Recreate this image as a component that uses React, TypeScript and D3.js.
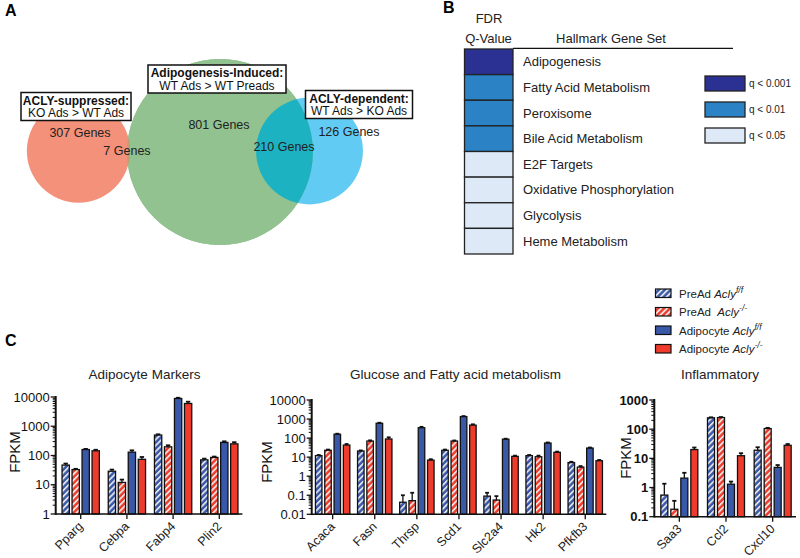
import * as d3 from 'd3'

const FONT = "Arial, 'Liberation Sans', Helvetica, sans-serif"
const BLUE = '#3a58a8'
const RED = '#ef3b2c'

// ---- Panel A: Venn ----
const vennTitles = ['ACLY-suppressed:', 'Adipogenesis-Induced:', 'ACLY-dependent:']
const vennSubtitles = ['KO Ads > WT Ads', 'WT Ads > WT Preads', 'WT Ads > KO Ads']
// region counts: suppressed only, suppressed∩induced, induced only, induced∩dependent, dependent only
const regionLabels = ['307 Genes', '7 Genes', '801 Genes', '210 Genes', '126 Genes']
const regionCounts = [307, 7, 801, 210, 126]
const setSizes = [
  regionCounts[0] + regionCounts[1],
  regionCounts[1] + regionCounts[2] + regionCounts[3],
  regionCounts[3] + regionCounts[4],
]

// ---- Panel B: Hallmark table ----
const hallmarkSets = [
  'Adipogenesis', 'Fatty Acid Metabolism', 'Peroxisome', 'Bile Acid Metabolism',
  'E2F Targets', 'Oxidative Phosphorylation', 'Glycolysis', 'Heme Metabolism',
]
const hallmarkQ = [0, 1, 1, 1, 2, 2, 2, 2]
const qLabels = ['q < 0.001', 'q < 0.01', 'q < 0.05']
const qColors = ['#2b3192', '#2b83c6', '#dde9f6']

// ---- Panel C: bar charts ----
const legendPrefix = ['PreAd ', 'PreAd  ', 'Adipocyte ', 'Adipocyte ']
const legendSup = ['f/f', '-/-', 'f/f', '-/-']

const markerGenes = ['Pparg', 'Cebpa', 'Fabp4', 'Plin2']
const markerPreWT = [47, 29, 500, 71]
const markerPreKO = [33, 12, 198, 86]
const markerAdWT = [160, 130, 8900, 280]
const markerAdKO = [145, 74, 6000, 250]
const markerErrPreWT = [6, 4, 30, 7]
const markerErrPreKO = [2, 3, 25, 6]
const markerErrAdWT = [8, 20, 500, 25]
const markerErrAdKO = [12, 15, 900, 35]
const markerTicks = ['1', '10', '100', '1000', '10000']

const metabGenes = ['Acaca', 'Fasn', 'Thrsp', 'Scd1', 'Slc2a4', 'Hk2', 'Pfkfb3']
const metabPreWT = [12, 21, 0.043, 23, 0.09, 12, 5.2]
const metabPreKO = [23, 70, 0.052, 70, 0.056, 10.5, 3.0]
const metabAdWT = [160, 600, 350, 1350, 88, 55, 30]
const metabAdKO = [43, 90, 7, 480, 11, 18, 6.5]
const metabErrPreWT = [1, 1.5, 0.057, 2, 0.045, 1, 0.5]
const metabErrPreKO = [2, 6, 0.083, 5, 0.034, 1.5, 0.4]
const metabErrAdWT = [10, 40, 40, 80, 5, 4, 2]
const metabErrAdKO = [6, 20, 0.8, 50, 1, 1.5, 0.6]
const metabTicks = ['0.01', '0.1', '1', '10', '100', '1000', '10000']

const inflGenes = ['Saa3', 'Ccl2', 'Cxcl10']
const inflPreWT = [0.55, 245, 19]
const inflPreKO = [0.18, 250, 105]
const inflAdWT = [2.1, 1.3, 4.9]
const inflAdKO = [20, 12.3, 28]
const inflErrPreWT = [0.8, 10, 5]
const inflErrPreKO = [0.17, 10, 6]
const inflErrAdWT = [1.1, 0.3, 1]
const inflErrAdKO = [3.5, 2.7, 3]
const inflTicks = ['0.1', '1', '10', '100', '1000']

const FILLS = ['url(#hatchBlue)', 'url(#hatchRed)', BLUE, RED]

type PanelProps = {
  title: string
  titleX: number
  genes: string[]
  series: number[][]
  errs: number[][]
  ticks: string[]
  left: number
  right: number
  axisX: number
  top: number
  bottom: number
  barW: number
  step: number
  ylabelX: number
  ylabelY: number
  bold?: boolean
}

function BarPanel(p: PanelProps) {
  const vals = p.ticks.map(Number)
  const y = d3.scaleLog().domain([vals[0], vals[vals.length - 1]]).range([p.bottom, p.top])
  const x = d3.scaleBand().domain(p.genes).range([p.left, p.right])
  const minor: number[] = []
  for (let i = 0; i < vals.length - 1; i++) {
    for (let k = 2; k <= 9; k++) minor.push(vals[i] * k)
  }
  return (
    <g>
      <text x={p.titleX} y={379} textAnchor="middle" fontSize={13.5} fill="#222">{p.title}</text>
      <text transform={`translate(${p.ylabelX},${p.ylabelY}) rotate(-90)`} textAnchor="middle"
        fontSize={15} fill="#111">FPKM</text>
      {p.genes.map((g, gi) => {
        const cx = x(g)! + x.bandwidth() / 2
        return (
          <g key={g}>
            {p.series.map((s, si) => {
              const bx = cx + (si - 1.5) * p.step - p.barW / 2
              const v = s[gi]
              const e = p.errs[si][gi]
              const yt = y(v)
              const ye = y(v + e)
              return (
                <g key={si}>
                  <rect x={bx} y={yt} width={p.barW} height={p.bottom - yt} fill={FILLS[si]}
                    stroke="#111" strokeWidth={1.3} />
                  <line x1={bx + p.barW / 2} x2={bx + p.barW / 2} y1={yt} y2={ye} stroke="#111" strokeWidth={1.3} />
                  <line x1={bx + p.barW * 0.2} x2={bx + p.barW * 0.8} y1={ye} y2={ye} stroke="#111" strokeWidth={1.8} />
                </g>
              )
            })}
            <line x1={cx} x2={cx} y1={p.bottom} y2={p.bottom + 5} stroke="#111" strokeWidth={1.3} />
            <text transform={`translate(${cx + 3},${p.bottom + 13}) rotate(-45)`} textAnchor="end"
              fontSize={12.5} fill="#222">{g}</text>
          </g>
        )
      })}
      <line x1={p.axisX} x2={p.right} y1={p.bottom} y2={p.bottom} stroke="#111" strokeWidth={1.6} />
      <line x1={p.axisX} x2={p.axisX} y1={p.top - 1} y2={p.bottom + 0.8} stroke="#111" strokeWidth={2} />
      {minor.map((m, i) => (
        <line key={i} x1={p.axisX - 3} x2={p.axisX} y1={y(m)} y2={y(m)} stroke="#111" strokeWidth={1} />
      ))}
      {vals.map((v, i) => (
        <g key={i}>
          <line x1={p.axisX - 5} x2={p.axisX} y1={y(v)} y2={y(v)} stroke="#111" strokeWidth={1.3} />
          <text x={p.axisX - 6} y={y(v) + 4.5} textAnchor="end" fontSize={13}
            fontWeight={p.bold ? 'bold' : 'normal'} fill="#111">{p.ticks[i]}</text>
        </g>
      ))}
    </g>
  )
}

export default function App() {
  const r = d3.scaleSqrt().domain([0, setSizes[1]]).range([0, 93])
  const centers = [[78.5, 151], [220, 152], [309.5, 151]]
  const circleFill = ['#f3917a', '#91c290', '#62cbf3']
  const boxes = [
    { cx: 76, y: 92.5, w: 110 },
    { cx: 217, y: 65, w: 138 },
    { cx: 359, y: 90.5, w: 107 },
  ]
  const regionPos = [[80, 137], [127, 155], [219, 129], [284, 151], [349, 136]]

  const rowY = d3.scaleBand().domain(hallmarkSets).range([49, 254])

  return (
    <svg width={800} height={558} style={{ position: 'absolute', left: 0, top: 0, background: '#fff' }}
      fontFamily={FONT}>
      <defs>
        <pattern id="hatchBlue" patternUnits="userSpaceOnUse" width={4.2} height={4.2} patternTransform="rotate(45)">
          <rect width={4.2} height={4.2} fill={BLUE} />
          <rect width={1.8} height={4.2} fill="#dfe1ea" />
        </pattern>
        <pattern id="hatchRed" patternUnits="userSpaceOnUse" width={4.2} height={4.2} patternTransform="rotate(45)">
          <rect width={4.2} height={4.2} fill={RED} />
          <rect width={1.8} height={4.2} fill="#f1e4e0" />
        </pattern>
        <clipPath id="clipRed"><circle cx={centers[0][0]} cy={centers[0][1]} r={r(setSizes[0])} /></clipPath>
        <clipPath id="clipBlue"><circle cx={centers[2][0]} cy={centers[2][1]} r={r(setSizes[2])} /></clipPath>
      </defs>

      {/* Panel A */}
      <text x={5} y={16} fontSize={16} fontWeight="bold">A</text>
      {setSizes.map((s, i) => (
        <circle key={i} cx={centers[i][0]} cy={centers[i][1]} r={r(s)} fill={circleFill[i]} />
      ))}
      <circle cx={centers[1][0]} cy={centers[1][1]} r={r(setSizes[1])} fill={circleFill[1]} />
      <circle cx={centers[1][0]} cy={centers[1][1]} r={r(setSizes[1])} fill="#c49a72" clipPath="url(#clipRed)" />
      <circle cx={centers[1][0]} cy={centers[1][1]} r={r(setSizes[1])} fill="#1db2c2" clipPath="url(#clipBlue)" />
      {regionLabels.map((l, i) => (
        <text key={l} x={regionPos[i][0]} y={regionPos[i][1]} textAnchor="middle" fontSize={12.5} fill="#222">{l}</text>
      ))}
      {boxes.map((b, i) => (
        <g key={i}>
          <rect x={b.cx - b.w / 2} y={b.y} width={b.w} height={28} fill="#fff" stroke="#111" strokeWidth={1.5} />
          <text x={b.cx} y={b.y + 12} textAnchor="middle" fontSize={12} fontWeight="bold" fill="#111">{vennTitles[i]}</text>
          <text x={b.cx} y={b.y + 24.5} textAnchor="middle" fontSize={12} fill="#111">{vennSubtitles[i]}</text>
        </g>
      ))}

      {/* Panel B */}
      <text x={443} y={13} fontSize={16} fontWeight="bold">B</text>
      <text x={489} y={23} textAnchor="middle" fontSize={13} fill="#222">FDR</text>
      <text x={488.5} y={43} textAnchor="middle" fontSize={13} fill="#222">Q-Value</text>
      <text x={611} y={43} textAnchor="middle" fontSize={13} fill="#222">Hallmark Gene Set</text>
      <line x1={513} x2={733} y1={48.3} y2={48.3} stroke="#111" strokeWidth={1.3} />
      {hallmarkSets.map((h, i) => (
        <g key={h}>
          <rect x={464.5} y={rowY(h)} width={48.5} height={rowY.bandwidth()} fill={qColors[hallmarkQ[i]]}
            stroke="#222" strokeWidth={1.3} />
          <text x={523} y={rowY(h)! + rowY.bandwidth() / 2 + 4.5} fontSize={13} fill="#222">{h}</text>
        </g>
      ))}
      {qLabels.map((q, i) => (
        <g key={q}>
          <rect x={705} y={76 + i * 26} width={40} height={15} fill={qColors[i]} stroke="#222" strokeWidth={1.3} />
          <text x={749} y={76 + i * 26 + 11} fontSize={10} fill="#222">{q}</text>
        </g>
      ))}

      {/* Panel C */}
      <text x={5} y={346} fontSize={16} fontWeight="bold">C</text>
      {legendPrefix.map((lp, i) => (
        <g key={i}>
          <rect x={655.5} y={289 + i * 18.5} width={15.5} height={8.5} fill={FILLS[i]} stroke="#111" strokeWidth={1.2} />
          <text x={679} y={289 + i * 18.5 + 8.5} fontSize={11.5} fill="#222" style={{ whiteSpace: 'pre' }}>
            {lp}<tspan fontStyle="italic">Acly</tspan>
            <tspan fontStyle="italic" fontSize={8.5} dy={-5}>{legendSup[i]}</tspan>
          </text>
        </g>
      ))}

      <BarPanel title="Adipocyte Markers" titleX={144.5} genes={markerGenes}
        series={[markerPreWT, markerPreKO, markerAdWT, markerAdKO]}
        errs={[markerErrPreWT, markerErrPreKO, markerErrAdWT, markerErrAdKO]}
        ticks={markerTicks} left={57.6} right={242.4} axisX={55.7} top={397} bottom={514}
        barW={7.3} step={10} ylabelX={20} ylabelY={452} />
      <BarPanel title="Glucose and Fatty acid metabolism" titleX={455.5} genes={metabGenes}
        series={[metabPreWT, metabPreKO, metabAdWT, metabAdKO]}
        errs={[metabErrPreWT, metabErrPreKO, metabErrAdWT, metabErrAdKO]}
        ticks={metabTicks} left={311.6} right={606.3} axisX={311.7} top={400} bottom={514.3}
        barW={6.5} step={9.3} ylabelX={272} ylabelY={462} />
      <BarPanel title="Inflammatory" titleX={720} genes={inflGenes}
        series={[inflPreWT, inflPreKO, inflAdWT, inflAdKO]}
        errs={[inflErrPreWT, inflErrPreKO, inflErrAdWT, inflErrAdKO]}
        ticks={inflTicks} left={656} right={796} axisX={654.3} top={400} bottom={516.7}
        barW={7} step={10} ylabelX={631} ylabelY={458} bold />
    </svg>
  )
}
